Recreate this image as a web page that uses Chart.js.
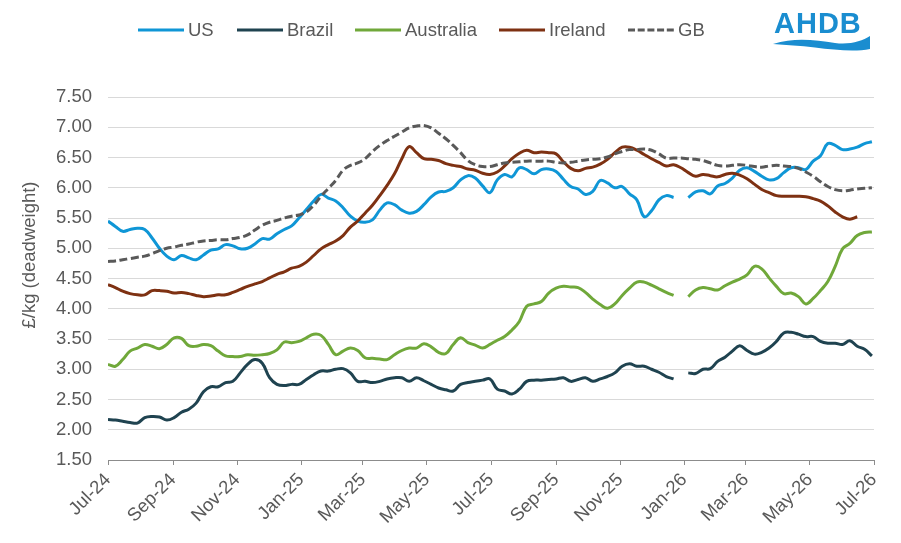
<!DOCTYPE html>
<html>
<head>
<meta charset="utf-8">
<script src="https://cdn.jsdelivr.net/npm/chart.js@4/dist/chart.umd.min.js"></script>
<style>
    html, body { margin: 0; padding: 0; background: #ffffff; }
    #caixa { width: 901px; height: 543px; position: relative; }
</style>
</head>
<body>
<div id="caixa"><canvas id="grafico" width="901" height="543"></canvas></div>
<script>
// DATA - WEEKLY PRICES, FIRST WEEK = 1 JULY 2024 (null = NO DATA THAT WEEK)
const primeiraSemana = '2024-07-01'

const rotulosX = ['Jul-24', 'Sep-24', 'Nov-24', 'Jan-25', 'Mar-25', 'May-25', 'Jul-25',
    'Sep-25', 'Nov-25', 'Jan-26', 'Mar-26', 'May-26', 'Jul-26']

const series = ['US', 'Brazil', 'Australia', 'Ireland', 'GB']

const dadosUS = [
    5.45, 5.36, 5.28, 5.31, 5.33, 5.31, 5.17, 5.00, 4.87, 4.81,
    4.88, 4.84, 4.81, 4.89, 4.97, 4.99, 5.06, 5.04, 4.99, 5.00,
    5.07, 5.16, 5.15, 5.24, 5.31, 5.37, 5.50, 5.64, 5.78, 5.89,
    5.83, 5.78, 5.67, 5.53, 5.45, 5.43, 5.47, 5.63, 5.75, 5.72,
    5.63, 5.58, 5.61, 5.72, 5.85, 5.93, 5.94, 6.00, 6.13, 6.20,
    6.16, 6.03, 5.92, 6.13, 6.22, 6.18, 6.33, 6.30, 6.23, 6.30,
    6.31, 6.27, 6.14, 6.02, 5.98, 5.89, 5.94, 6.12, 6.08, 6.00,
    6.02, 5.90, 5.80, 5.52, 5.62, 5.80, 5.87, 5.84, null, 5.84,
    5.93, 5.95, 5.90, 6.03, 6.07, 6.16, 6.29, 6.33, 6.27, 6.19,
    6.13, 6.15, 6.25, 6.33, 6.33, 6.30, 6.44, 6.53, 6.73, 6.70,
    6.63, 6.64, 6.67, 6.73, 6.76
]

const dadosBrazil = [
    2.17, 2.16, 2.14, 2.12, 2.11, 2.20, 2.22, 2.21, 2.16, 2.20,
    2.29, 2.34, 2.44, 2.63, 2.71, 2.71, 2.78, 2.80, 2.94, 3.08,
    3.16, 3.10, 2.86, 2.75, 2.73, 2.75, 2.75, 2.83, 2.91, 2.97,
    2.97, 3.00, 3.01, 2.94, 2.80, 2.80, 2.78, 2.80, 2.84, 2.86,
    2.86, 2.80, 2.86, 2.81, 2.75, 2.69, 2.66, 2.64, 2.75, 2.78,
    2.80, 2.82, 2.84, 2.67, 2.64, 2.59, 2.67, 2.80, 2.82, 2.82,
    2.83, 2.84, 2.86, 2.80, 2.83, 2.86, 2.80, 2.84, 2.88, 2.94,
    3.05, 3.09, 3.05, 3.05, 3.00, 2.95, 2.88, 2.84, null, 2.94,
    2.93, 3.00, 3.01, 3.13, 3.20, 3.30, 3.39, 3.31, 3.25, 3.28,
    3.35, 3.46, 3.60, 3.61, 3.58, 3.54, 3.54, 3.46, 3.43, 3.43,
    3.41, 3.47, 3.38, 3.33, 3.22
]

const dadosAustralia = [
    3.08, 3.05, 3.16, 3.30, 3.35, 3.41, 3.38, 3.34, 3.41, 3.52,
    3.51, 3.39, 3.38, 3.41, 3.39, 3.30, 3.22, 3.21, 3.21, 3.24,
    3.23, 3.24, 3.26, 3.32, 3.45, 3.44, 3.46, 3.52, 3.58, 3.56,
    3.41, 3.24, 3.30, 3.35, 3.31, 3.19, 3.18, 3.17, 3.16, 3.24,
    3.31, 3.35, 3.35, 3.42, 3.37, 3.28, 3.26, 3.41, 3.52, 3.44,
    3.40, 3.35, 3.41, 3.48, 3.54, 3.65, 3.79, 4.04, 4.08, 4.12,
    4.26, 4.34, 4.37, 4.36, 4.35, 4.27, 4.16, 4.07, 4.01, 4.08,
    4.22, 4.34, 4.44, 4.44, 4.39, 4.33, 4.27, 4.22, null, 4.20,
    4.31, 4.35, 4.33, 4.31, 4.38, 4.44, 4.49, 4.56, 4.70, 4.66,
    4.51, 4.37, 4.25, 4.26, 4.20, 4.08, 4.17, 4.30, 4.45, 4.70,
    4.99, 5.08, 5.21, 5.26, 5.27
]

const dadosIreland = [
    4.40, 4.35, 4.29, 4.25, 4.23, 4.23, 4.30, 4.30, 4.29, 4.26,
    4.27, 4.25, 4.22, 4.20, 4.21, 4.23, 4.23, 4.27, 4.32, 4.37,
    4.41, 4.45, 4.51, 4.57, 4.61, 4.67, 4.70, 4.77, 4.88, 4.99,
    5.06, 5.12, 5.21, 5.35, 5.45, 5.58, 5.71, 5.87, 6.04, 6.23,
    6.48, 6.68, 6.58, 6.48, 6.47, 6.45, 6.40, 6.37, 6.35, 6.31,
    6.29, 6.24, 6.22, 6.26, 6.36, 6.48, 6.57, 6.62, 6.58, 6.59,
    6.58, 6.56, 6.43, 6.32, 6.28, 6.32, 6.34, 6.39, 6.47, 6.58,
    6.67, 6.67, 6.62, 6.55, 6.48, 6.42, 6.36, 6.38, 6.33, 6.25,
    6.19, 6.22, 6.20, 6.18, 6.22, 6.24, 6.21, 6.15, 6.06, 5.97,
    5.92, 5.87, 5.86, 5.86, 5.86, 5.85, 5.82, 5.78, 5.70, 5.60,
    5.52, 5.48, 5.52, null, null
]

const dadosGB = [
    4.78, 4.79, 4.81, 4.83, 4.85, 4.87, 4.91, 4.96, 5.00, 5.02,
    5.05, 5.07, 5.10, 5.12, 5.13, 5.14, 5.14, 5.16, 5.18, 5.22,
    5.30, 5.38, 5.43, 5.46, 5.50, 5.53, 5.55, 5.60, 5.71, 5.86,
    5.99, 6.12, 6.29, 6.37, 6.41, 6.48, 6.60, 6.70, 6.78, 6.85,
    6.92, 6.99, 7.02, 7.03, 6.99, 6.90, 6.81, 6.70, 6.58, 6.45,
    6.38, 6.35, 6.35, 6.38, 6.41, 6.42, 6.43, 6.44, 6.44, 6.44,
    6.44, 6.42, 6.41, 6.42, 6.44, 6.46, 6.47, 6.48, 6.51, 6.56,
    6.60, 6.63, 6.63, 6.64, 6.62, 6.56, 6.49, 6.49, 6.49, 6.48,
    6.47, 6.45, 6.41, 6.37, 6.36, 6.37, 6.38, 6.37, 6.35, 6.34,
    6.36, 6.37, 6.36, 6.35, 6.32, 6.26, 6.19, 6.10, 6.02, 5.97,
    5.95, 5.96, 5.98, 5.99, 6.00
]

// CORES
const corUS = '#0f96d6'
const corBrazil = '#1f4350'
const corAustralia = '#70a83a'
const corIreland = '#7e3112'
const corGB = '#595959'
const corTexto = '#595959'
const fonte = "'Liberation Sans', Arial, sans-serif"

// DAYS FROM FIRST WEEK, FOR THE LINEAR X AXIS
const diaZero = Date.parse(primeiraSemana)
const meses = { Jan: 0, Feb: 1, Mar: 2, Apr: 3, May: 4, Jun: 5, Jul: 6, Aug: 7, Sep: 8, Oct: 9, Nov: 10, Dec: 11 }
const diasTicks = rotulosX.map(r => {
    let partes = r.split('-')
    return (Date.UTC(2000 + Number(partes[1]), meses[partes[0]], 1) - diaZero) / 86400000
})
const diasUltimo = diasTicks[diasTicks.length - 1]

function pontos(valores) {
    return valores.map((v, i) => ({ x: i * 7, y: v }))
}

function serie(nome, valores, cor, ordem, tracejado) {
    return {
        label: nome,
        data: pontos(valores),
        borderColor: cor,
        backgroundColor: cor,
        borderWidth: 3,
        borderDash: tracejado,
        borderCapStyle: 'butt',
        pointRadius: 0,
        tension: 0.4,
        spanGaps: false,
        fill: false,
        order: ordem
    }
}

// LEGEND, Y TITLE AND LOGO
const extras = {
    id: 'extras',
    afterDraw(chart) {
        const ctx = chart.ctx
        ctx.save()

        // LEGENDA
        const itens = [
            { texto: series[0], cor: corUS, x: 138, dash: [] },
            { texto: series[1], cor: corBrazil, x: 237, dash: [] },
            { texto: series[2], cor: corAustralia, x: 355, dash: [] },
            { texto: series[3], cor: corIreland, x: 499, dash: [] },
            { texto: series[4], cor: corGB, x: 628, dash: [7, 2.7] }
        ]
        const yLeg = 30
        itens.forEach(item => {
            ctx.beginPath()
            ctx.setLineDash(item.dash)
            ctx.lineWidth = 3
            ctx.strokeStyle = item.cor
            ctx.moveTo(item.x, yLeg)
            ctx.lineTo(item.x + 46, yLeg)
            ctx.stroke()
            ctx.setLineDash([])
            ctx.fillStyle = corTexto
            ctx.font = '18.5px ' + fonte
            ctx.textBaseline = 'middle'
            ctx.textAlign = 'left'
            ctx.fillText(item.texto, item.x + 50, yLeg + 1)
        })

        // TITULO DO EIXO Y
        ctx.save()
        ctx.translate(30, 255)
        ctx.rotate(-Math.PI / 2)
        ctx.fillStyle = corTexto
        ctx.font = '18.5px ' + fonte
        ctx.textAlign = 'center'
        ctx.textBaseline = 'middle'
        ctx.fillText('£/kg (deadweight)', 0, 0)
        ctx.restore()

        // LOGO AHDB
        ctx.fillStyle = '#1a8dd0'
        ctx.font = 'bold 29px ' + fonte
        ctx.textAlign = 'left'
        ctx.textBaseline = 'alphabetic'
        if ('letterSpacing' in ctx) ctx.letterSpacing = '1px'
        ctx.fillText('AHDB', 774, 33)
        if ('letterSpacing' in ctx) ctx.letterSpacing = '0px'
        ctx.beginPath()
        ctx.moveTo(773, 44)
        ctx.bezierCurveTo(795, 37, 815, 40, 835, 43)
        ctx.bezierCurveTo(850, 45, 862, 41, 870, 36)
        ctx.lineTo(870, 49)
        ctx.bezierCurveTo(855, 52, 835, 50, 815, 47.5)
        ctx.bezierCurveTo(800, 45.5, 786, 45, 773, 44)
        ctx.closePath()
        ctx.fill()

        ctx.restore()
    }
}

// GRAFICO
let graficoPrecos = new Chart(document.getElementById('grafico'), {
    type: 'line',
    data: {
        datasets: [
            serie(series[0], dadosUS, corUS, 4, []),
            serie(series[1], dadosBrazil, corBrazil, 3, []),
            serie(series[2], dadosAustralia, corAustralia, 2, []),
            serie(series[3], dadosIreland, corIreland, 1, []),
            serie(series[4], dadosGB, corGB, 0, [8, 3.5])
        ]
    },
    options: {
        responsive: false,
        animation: false,
        devicePixelRatio: 1,
        layout: { padding: { top: 97, right: 27, left: 0, bottom: 0 } },
        plugins: {
            legend: { display: false },
            tooltip: { enabled: false }
        },
        scales: {
            x: {
                type: 'linear',
                min: 0,
                max: diasUltimo,
                afterBuildTicks: (scale) => {
                    scale.ticks = diasTicks.map(d => ({ value: d }))
                },
                afterFit: (scale) => { scale.height = 83 },
                grid: {
                    drawOnChartArea: false,
                    drawTicks: true,
                    tickLength: 5,
                    color: '#8c8c8c'
                },
                border: { display: true, color: '#8c8c8c', width: 1 },
                ticks: {
                    autoSkip: false,
                    maxRotation: 45,
                    minRotation: 45,
                    padding: 4,
                    color: corTexto,
                    font: { family: fonte, size: 18.5 },
                    callback: (valor, indice) => rotulosX[indice]
                }
            },
            y: {
                min: 1.5,
                max: 7.5,
                afterFit: (scale) => { scale.width = 108 },
                grid: {
                    drawTicks: false,
                    color: (c) => c.tick && c.tick.value === 1.5 ? 'rgba(0,0,0,0)' : '#d9d9d9'
                },
                border: { display: false },
                ticks: {
                    stepSize: 0.5,
                    padding: 16,
                    color: corTexto,
                    font: { family: fonte, size: 18.5 },
                    callback: (v) => v.toFixed(2)
                }
            }
        }
    },
    plugins: [extras]
})
</script>
</body>
</html>
